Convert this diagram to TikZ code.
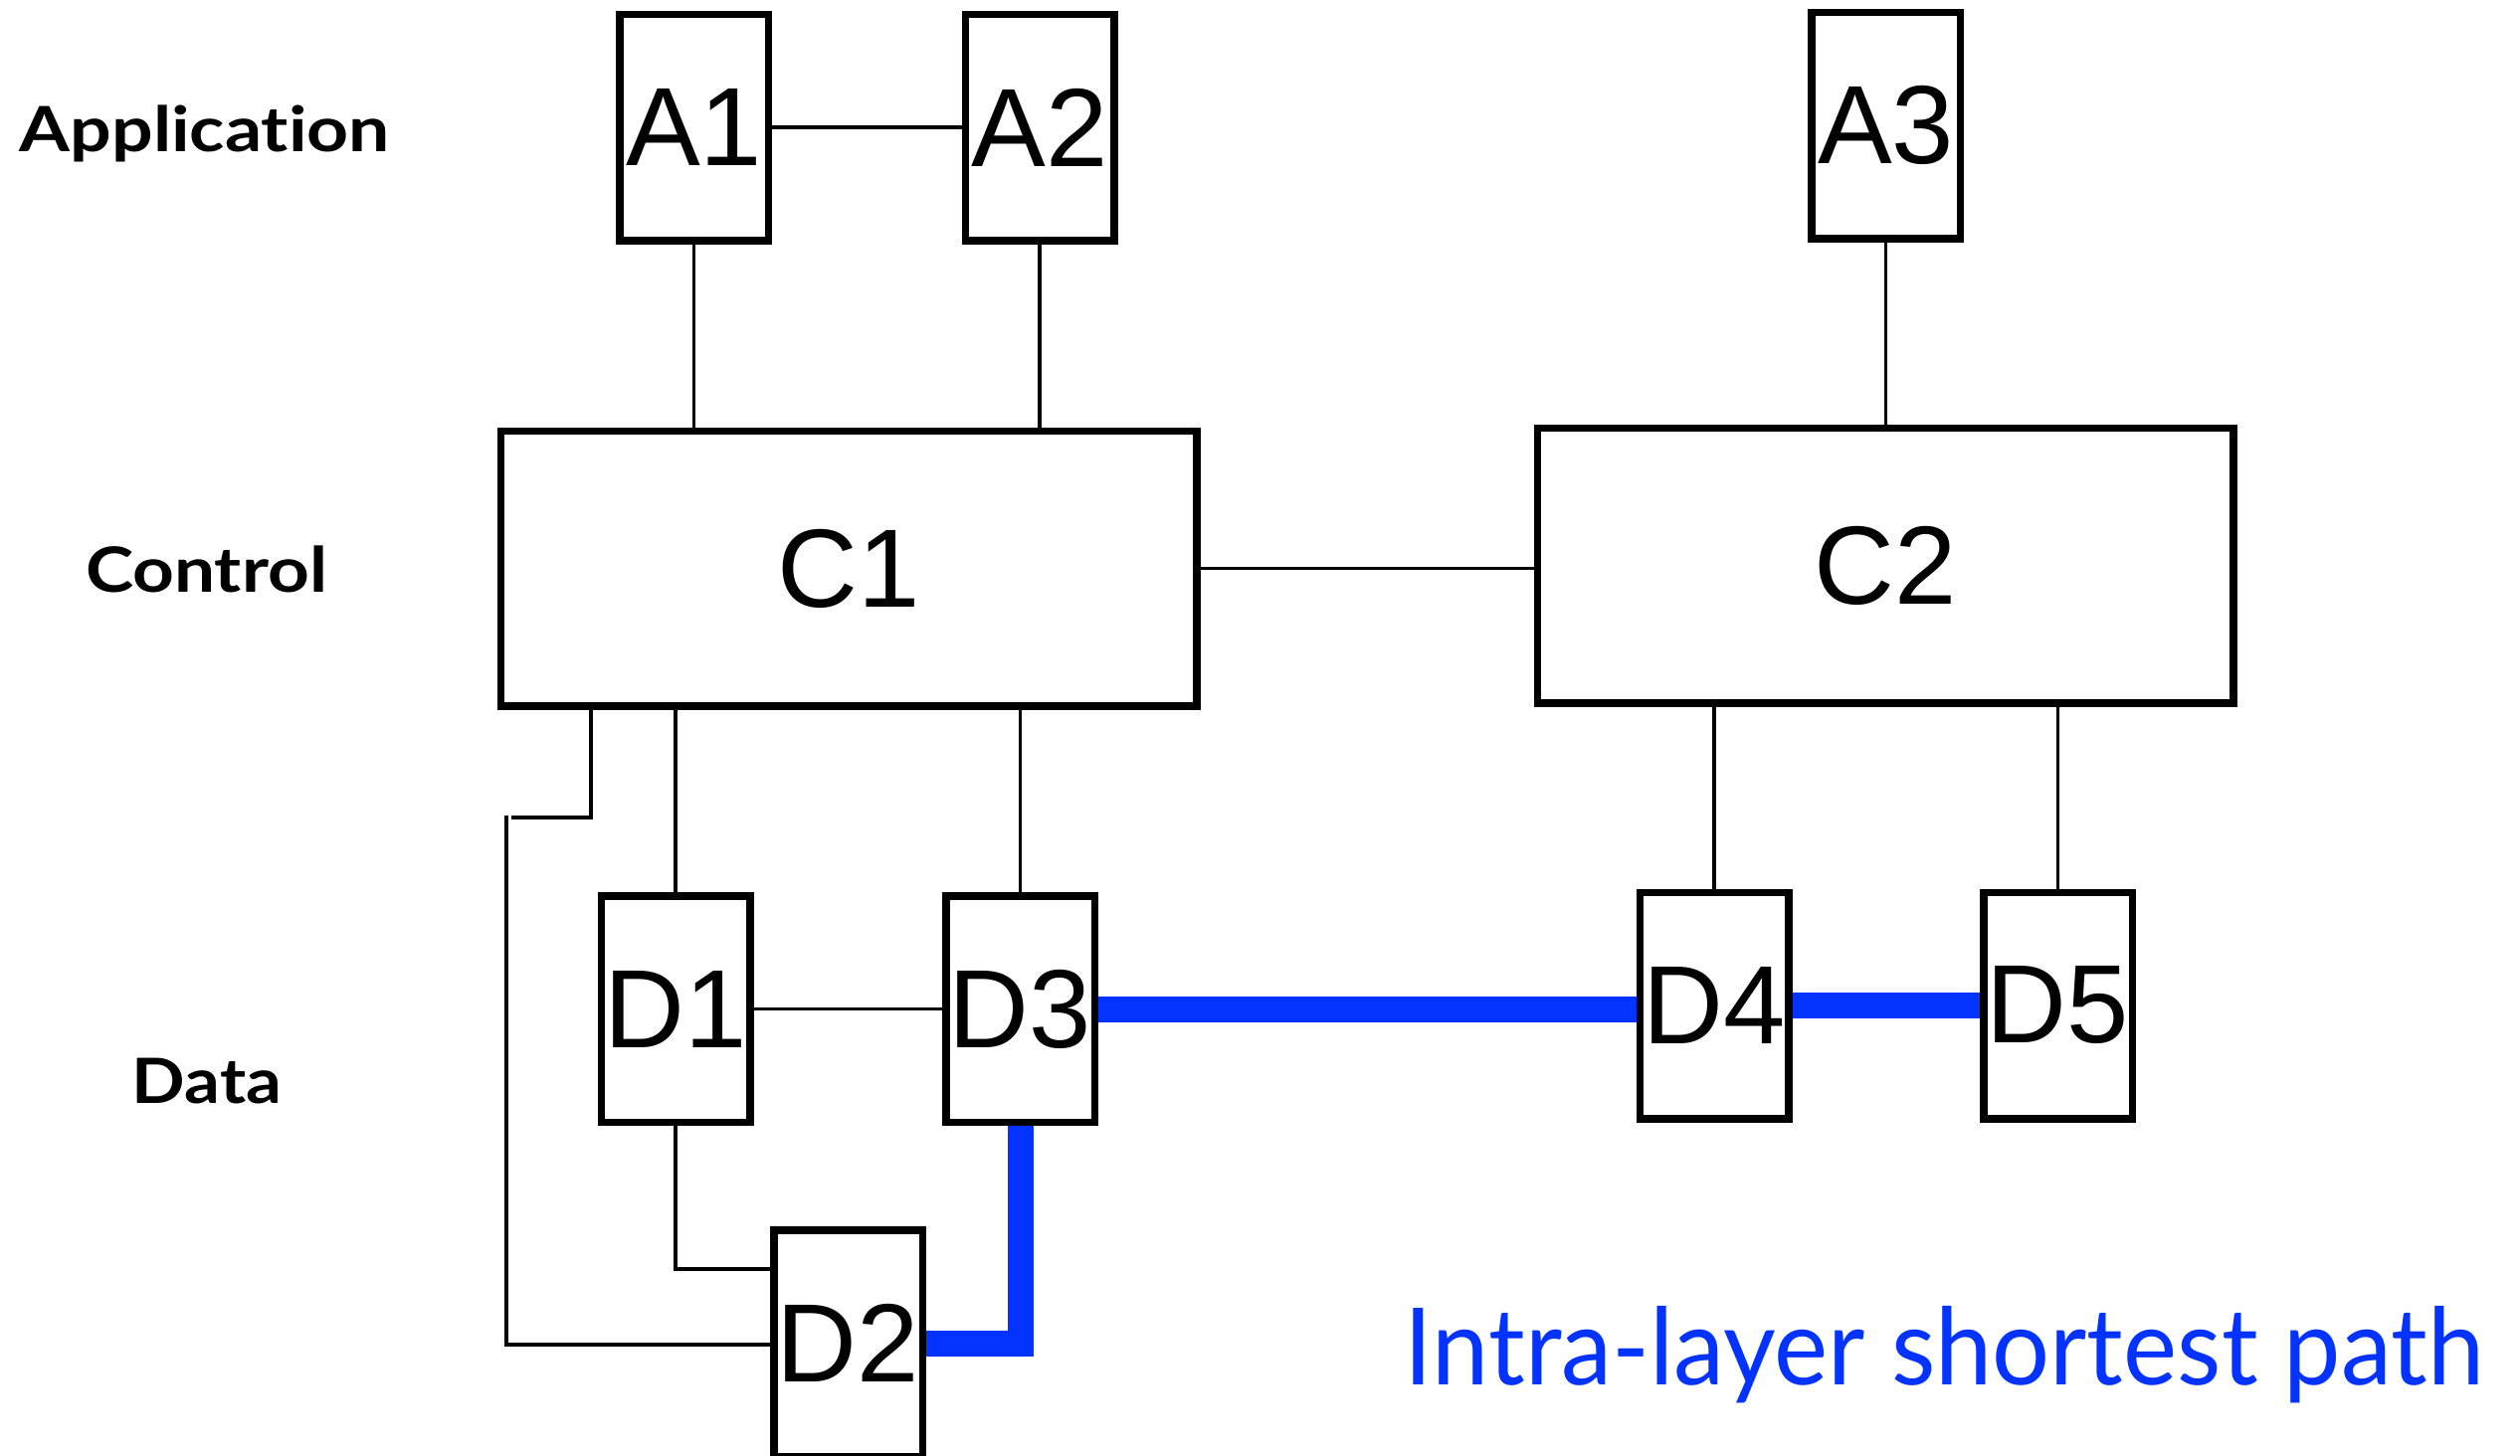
\documentclass[tikz,border=0pt]{standalone}
\usepackage{fontspec}
\newfontfamily\boxfont{Liberation Sans}
\newfontfamily\labfont{Lato}[Ligatures=NoCommon]
\usetikzlibrary{calc}
\pgfdeclarelayer{bg}
\pgfsetlayers{bg,main}
\definecolor{pathblue}{RGB}{4,51,255}
\tikzset{
  smallbox/.style={draw, fill=white, line width=3.75pt, minimum width=74.75pt, minimum height=113.75pt, inner sep=0pt, font=\boxfont\fontsize{56}{56}\selectfont},
  bigbox/.style={draw, fill=white, line width=3.75pt, minimum width=349.75pt, minimum height=138.25pt, inner sep=0pt, font=\boxfont\fontsize{56}{56}\selectfont},
  wire/.style={line width=1.7pt},
  sp/.style={line width=13pt, draw=pathblue},
  layerlab/.style={anchor=base, inner sep=0pt, font=\labfont\bfseries\fontsize{31.4}{31.4}\selectfont},
  caplab/.style={anchor=base, inner sep=0pt, text=pathblue, font=\labfont\fontsize{53.7}{53.7}\selectfont}
}
\begin{document}
\begin{tikzpicture}[x=0.5pt, y=-0.5pt]
\useasboundingbox (0,0) rectangle (2533,1463);
\begin{pgfonlayer}{bg}
\fill[white] (0,0) rectangle (2533,1463);
\end{pgfonlayer}
\clip (0,0) rectangle (2533,1463);

% boxes
\node[smallbox] (A1) at (697.5,128) {A1};
\node[smallbox] (A2) at (1045,128) {A2};
\node[smallbox] (A3) at (1895.5,126) {A3};
\node[bigbox] (C1) at (853,571.5) {C1};
\node[bigbox] (C2) at (1895,568.5) {C2};
\node[smallbox] (D1) at (679,1014.5) {D1};
\node[smallbox] (D3) at (1025.5,1014.5) {D3};
\node[smallbox] (D4) at (1723,1011) {D4};
\node[smallbox] (D5) at (2068.5,1011) {D5};
\node[smallbox] (D2) at (852.5,1350.5) {D2};

% layer labels
\node[layerlab] (lApp) at (206,152) {\resizebox{186pt}{\height}{Application}};
\node[layerlab] (lCtl) at (207.5,595) {\resizebox{121.5pt}{\height}{Control}};
\node[layerlab] (lDat) at (208,1109) {\resizebox{75pt}{\height}{Data}};
\node[caplab] (cap) at (1954.5,1392) {\resizebox{542.5pt}{\height}{Intra-layer shortest path}};

\coordinate (k1) at (594,822);
\coordinate (k2) at (514,822);
\coordinate (k3) at (509,820);
\coordinate (k4) at (509,1352);
\coordinate (k5) at (679,1276);

\begin{pgfonlayer}{bg}
% thin connectors
\draw[wire] (A1.east) -- (A2.west);
\draw[wire] (A1.south) -- (A1.south |- C1.north);
\draw[wire] (A2.south) -- (A2.south |- C1.north);
\draw[wire] (A3.south) -- (A3.south |- C2.north);
\draw[wire] (C1.east) -- (C1.east -| C2.west);
\draw[wire] (D1.north |- C1.south) -- (D1.north);
\draw[wire] (D3.north |- C1.south) -- (D3.north);
\draw[wire] (D4.north |- C2.south) -- (D4.north);
\draw[wire] (D5.north |- C2.south) -- (D5.north);
\draw[wire] (D1.east) -- (D3.west);
\draw[wire] (D1.south) -- (k5) -- (k5 -| D2.west);
\draw[wire] (k1 |- C1.south) -- (k1) -- (k2);
\draw[wire] (k3) -- (k4) -- (k4 -| D2.west);
% shortest path
\draw[sp] (D3.east) -- (D3.east -| D4.west);
\draw[sp] (D4.east) -- (D5.west);
\draw[sp] (D3.south) -- (D3.south |- D2.east) -- (D2.east);
\end{pgfonlayer}
\end{tikzpicture}
\end{document}
